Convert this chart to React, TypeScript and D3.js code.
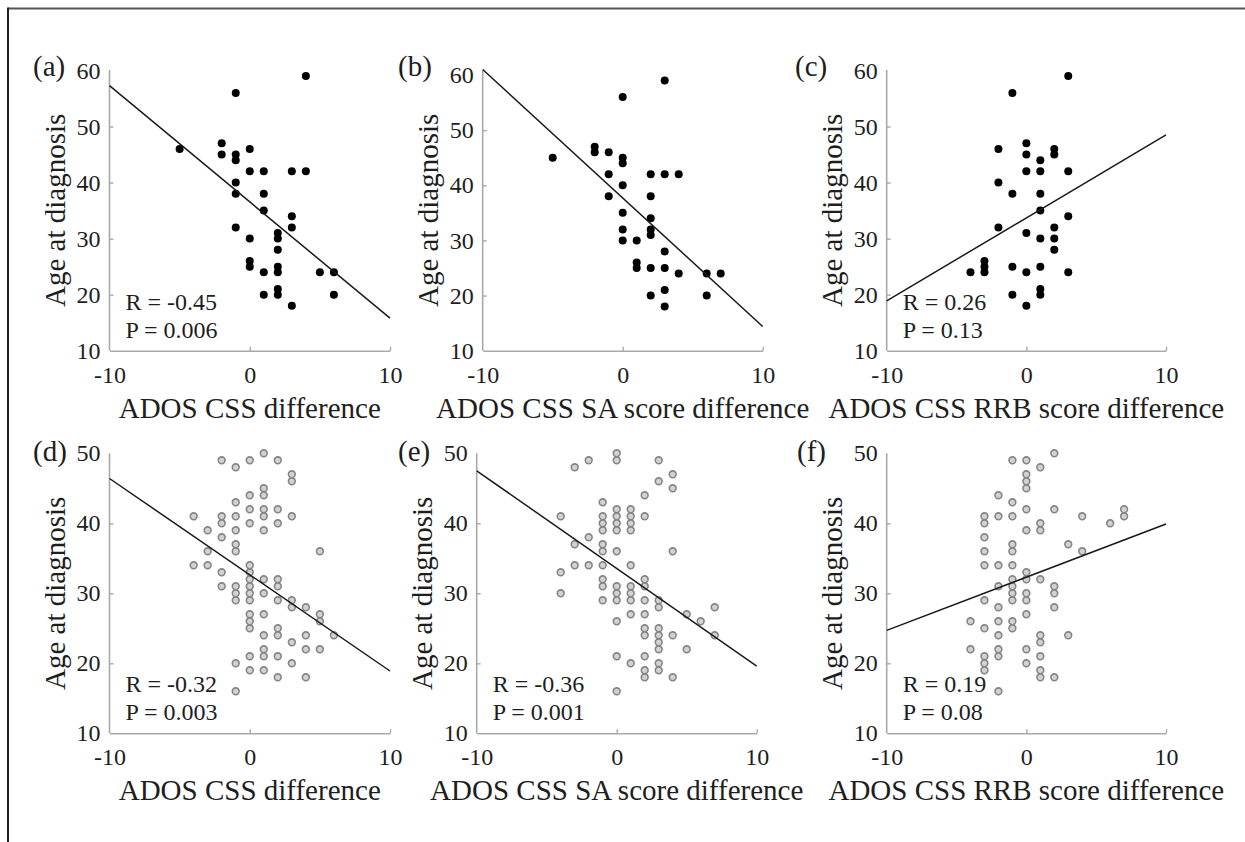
import React, { useEffect, useRef } from "react";
import * as d3 from "d3";

const W = 1245;
const H = 842;

// ---- data ----
const panelLabels = ["(a)", "(b)", "(c)", "(d)", "(e)", "(f)"];
const xTitles = [
  "ADOS CSS difference",
  "ADOS CSS SA score difference",
  "ADOS CSS RRB score difference",
  "ADOS CSS difference",
  "ADOS CSS SA score difference",
  "ADOS CSS RRB score difference",
];
const yTitle = "Age at diagnosis";
const xTicks = [-10, 0, 10];
const yTicksTop = [10, 20, 30, 40, 50, 60];
const yTicksBottom = [10, 20, 30, 40, 50];
const rTexts = ["R = -0.45", "", "R = 0.26", "R = -0.32", "R = -0.36", "R = 0.19"];
const pTexts = ["P = 0.006", "", "P = 0.13", "P = 0.003", "P = 0.001", "P = 0.08"];

// fitted line values at x = -10 and x = 10
const fitA = [57.3, 15.8];
const fitB = [61.0, 14.4];
const fitC = [18.9, 48.5];
const fitD = [46.4, 18.9];
const fitE = [47.5, 19.6];
const fitF = [24.7, 39.9];

const pointsA: number[][] = [
  [-5, 46], [-2, 47], [-2, 45], [-1, 56], [-1, 45], [-1, 44], [-1, 40], [-1, 38], [-1, 32],
  [0, 46], [0, 42], [0, 30], [0, 26], [0, 25], [1, 42], [1, 38], [1, 35], [1, 24], [1, 20],
  [2, 31], [2, 30], [2, 28], [2, 25], [2, 24], [2, 21], [2, 20], [3, 42], [3, 34], [3, 32],
  [3, 18], [4, 59], [4, 42], [5, 24], [6, 24], [6, 20],
];
const pointsB: number[][] = [
  [-5, 45], [-2, 47], [-2, 46], [-1, 46], [-1, 42], [-1, 38], [0, 56], [0, 45], [0, 44],
  [0, 40], [0, 35], [0, 32], [0, 30], [1, 30], [1, 26], [1, 25], [2, 42], [2, 38], [2, 34],
  [2, 32], [2, 31], [2, 25], [2, 20], [3, 59], [3, 42], [3, 28], [3, 25], [3, 21], [3, 18],
  [4, 42], [4, 24], [6, 24], [6, 20], [7, 24],
];
const pointsC: number[][] = [
  [-4, 24], [-3, 26], [-3, 25], [-3, 24], [-2, 46], [-2, 40], [-2, 32], [-1, 56], [-1, 38],
  [-1, 25], [-1, 20], [0, 47], [0, 45], [0, 42], [0, 31], [0, 24], [0, 18], [1, 44], [1, 42],
  [1, 38], [1, 35], [1, 30], [1, 25], [1, 21], [1, 20], [2, 46], [2, 45], [2, 32], [2, 30],
  [2, 28], [3, 59], [3, 42], [3, 34], [3, 24],
];
const pointsD: number[][] = [
  [-4, 41], [-4, 34], [-3, 39], [-3, 36], [-3, 34], [-2, 49], [-2, 41], [-2, 40], [-2, 38],
  [-2, 33], [-2, 31], [-1, 48], [-1, 43], [-1, 41], [-1, 39], [-1, 37], [-1, 36], [-1, 31],
  [-1, 30], [-1, 29], [-1, 20], [-1, 16], [0, 49], [0, 44], [0, 42], [0, 40], [0, 34], [0, 33],
  [0, 32], [0, 31], [0, 30], [0, 29], [0, 27], [0, 26], [0, 25], [0, 21], [0, 19], [1, 50],
  [1, 45], [1, 44], [1, 42], [1, 41], [1, 39], [1, 32], [1, 30], [1, 27], [1, 24], [1, 22],
  [1, 21], [1, 19], [2, 49], [2, 42], [2, 40], [2, 32], [2, 31], [2, 29], [2, 25], [2, 24],
  [2, 21], [2, 18], [3, 47], [3, 46], [3, 41], [3, 29], [3, 28], [3, 23], [3, 20], [4, 28],
  [4, 24], [4, 22], [4, 18], [5, 36], [5, 27], [5, 26], [5, 22], [6, 24],
];
const pointsE: number[][] = [
  [-4, 41], [-4, 33], [-4, 30], [-3, 48], [-3, 37], [-3, 34], [-2, 49], [-2, 38], [-2, 34],
  [-1, 43], [-1, 41], [-1, 40], [-1, 39], [-1, 37], [-1, 36], [-1, 34], [-1, 32], [-1, 31],
  [-1, 29], [0, 50], [0, 49], [0, 42], [0, 41], [0, 40], [0, 39], [0, 36], [0, 31], [0, 30],
  [0, 29], [0, 26], [0, 21], [0, 16], [1, 42], [1, 41], [1, 40], [1, 39], [1, 34], [1, 31],
  [1, 30], [1, 29], [1, 27], [1, 20], [2, 44], [2, 41], [2, 32], [2, 31], [2, 29], [2, 27],
  [2, 25], [2, 24], [2, 21], [2, 19], [2, 18], [3, 49], [3, 46], [3, 29], [3, 28], [3, 25],
  [3, 24], [3, 23], [3, 22], [3, 20], [3, 19], [4, 47], [4, 45], [4, 36], [4, 24], [4, 18],
  [5, 27], [5, 22], [6, 26], [7, 28], [7, 24],
];
const pointsF: number[][] = [
  [-4, 26], [-4, 22], [-3, 41], [-3, 40], [-3, 38], [-3, 36], [-3, 34], [-3, 29], [-3, 25],
  [-3, 21], [-3, 20], [-3, 19], [-2, 44], [-2, 41], [-2, 34], [-2, 31], [-2, 28], [-2, 26],
  [-2, 24], [-2, 22], [-2, 21], [-2, 16], [-1, 49], [-1, 43], [-1, 41], [-1, 37], [-1, 36],
  [-1, 34], [-1, 32], [-1, 31], [-1, 30], [-1, 29], [-1, 26], [-1, 25], [0, 49], [0, 47],
  [0, 46], [0, 45], [0, 42], [0, 39], [0, 33], [0, 32], [0, 30], [0, 29], [0, 27], [0, 22],
  [0, 20], [1, 48], [1, 40], [1, 39], [1, 32], [1, 24], [1, 23], [1, 21], [1, 19], [1, 18],
  [2, 50], [2, 42], [2, 31], [2, 30], [2, 28], [2, 18], [3, 37], [3, 24], [4, 41], [4, 36],
  [6, 40], [7, 42], [7, 41],
];

const allPoints = [pointsA, pointsB, pointsC, pointsD, pointsE, pointsF];
const allFits = [fitA, fitB, fitC, fitD, fitE, fitF];

// ---- layout ----
type Layout = { x0: number; x1: number; yTop: number; yBot: number; yTopAxis: number; labelX: number; labelY: number; yMax: number };
const layouts: Layout[] = [
  { x0: 109.5, x1: 390, yTop: 70.5, yBot: 350.7, yTopAxis: 70, labelX: 33, labelY: 76, yMax: 60 },
  { x0: 482.7, x1: 762.7, yTop: 75, yBot: 350.7, yTopAxis: 70, labelX: 398, labelY: 76, yMax: 60 },
  { x0: 886.7, x1: 1166, yTop: 70.5, yBot: 350.7, yTopAxis: 70, labelX: 795, labelY: 76, yMax: 60 },
  { x0: 109.5, x1: 390, yTop: 453.3, yBot: 733.3, yTopAxis: 453.3, labelX: 33, labelY: 461, yMax: 50 },
  { x0: 476.7, x1: 756.7, yTop: 453.3, yBot: 733.3, yTopAxis: 453.3, labelX: 398, labelY: 461, yMax: 50 },
  { x0: 886.7, x1: 1166, yTop: 453.3, yBot: 733.3, yTopAxis: 453.3, labelX: 797, labelY: 461, yMax: 50 },
];

const SERIF = "Liberation Serif, DejaVu Serif, serif";
const AXIS_COLOR = "#a9a9a9";
const TEXT_COLOR = "#1e1e1e";

function Panel({ idx }: { idx: number }) {
  const L = layouts[idx];
  const pts = allPoints[idx];
  const fit = allFits[idx];
  const filled = idx < 3;
  const x = d3.scaleLinear().domain([-10, 10]).range([L.x0, L.x1]);
  const y = d3.scaleLinear().domain([10, L.yMax]).range([L.yBot, L.yTop]);
  const yTicks = L.yMax === 60 ? yTicksTop : yTicksBottom;
  const gx = useRef<SVGGElement>(null);
  const gy = useRef<SVGGElement>(null);

  useEffect(() => {
    const fmt = (d: any) => String(d);
    const xa = d3.axisBottom(x).tickValues(xTicks).tickSizeInner(-4).tickSizeOuter(0).tickPadding(15).tickFormat(fmt);
    const ya = d3.axisLeft(y).tickValues(yTicks).tickSizeInner(-4).tickSizeOuter(0).tickPadding(9).tickFormat(fmt);
    const sx = d3.select(gx.current!);
    sx.call(xa as any);
    const sy = d3.select(gy.current!);
    sy.call(ya as any);
    for (const s of [sx, sy]) {
      s.attr("font-family", SERIF).attr("font-size", 24);
      s.select(".domain").attr("stroke", AXIS_COLOR).attr("stroke-width", 1.6);
      s.selectAll(".tick line").attr("stroke", AXIS_COLOR).attr("stroke-width", 1.4);
      s.selectAll(".tick text").attr("fill", TEXT_COLOR);
    }
    sy.select(".domain").attr("d", `M0,${L.yTopAxis}V${L.yBot}`);
    sy.selectAll(".tick").filter((d: any) => d === 10 || d === L.yMax).select("line").remove();
    sx.selectAll(".tick").filter((d: any) => d === -10).select("line").remove();
  }, [idx]);

  const lineGen = d3.line<number[]>().x((d) => x(d[0])).y((d) => y(d[1]));
  const fitPts = [[-10, fit[0]], [10, fit[1]]];

  return (
    <g>
      <g ref={gx} transform={`translate(0,${L.yBot})`} />
      <g ref={gy} transform={`translate(${L.x0},0)`} />
      {pts.map((p, i) =>
        filled ? (
          <circle key={i} cx={x(p[0])} cy={y(p[1])} r={4} fill="#000" />
        ) : (
          <circle key={i} cx={x(p[0])} cy={y(p[1])} r={3.4} fill="#d2d2d2" stroke="#858585" strokeWidth={1.6} />
        )
      )}
      <path d={lineGen(fitPts) || ""} fill="none" stroke="#1a1a1a" strokeWidth={1.5} />
      <g fontFamily={SERIF} fill={TEXT_COLOR}>
        <text x={L.labelX} y={L.labelY} fontSize={29}>
          {panelLabels[idx]}
        </text>
        <text x={(L.x0 + L.x1) / 2} y={L.yBot + 67} textAnchor="middle" fontSize={29}>
          {xTitles[idx]}
        </text>
        <text
          transform={`translate(${L.x0 - 45},${(L.yTopAxis + L.yBot) / 2}) rotate(-90)`}
          textAnchor="middle"
          fontSize={29}
        >
          {yTitle}
        </text>
        {rTexts[idx] && (
          <text x={L.x0 + 16} y={L.yBot - 41} fontSize={24}>
            {rTexts[idx]}
          </text>
        )}
        {pTexts[idx] && (
          <text x={L.x0 + 16} y={L.yBot - 13} fontSize={24}>
            {pTexts[idx]}
          </text>
        )}
      </g>
    </g>
  );
}

export default function App() {
  return (
    <svg width={W} height={H} style={{ position: "absolute", left: 0, top: 0, background: "#fff" }}>
      <rect x={0} y={0} width={W} height={H} fill="#fff" />
      <line x1={8} y1={8.5} x2={W} y2={8.5} stroke="#555" strokeWidth={2} />
      <line x1={8} y1={7.5} x2={8} y2={H} stroke="#222" strokeWidth={2} />
      {layouts.map((_, i) => (
        <Panel key={i} idx={i} />
      ))}
    </svg>
  );
}
